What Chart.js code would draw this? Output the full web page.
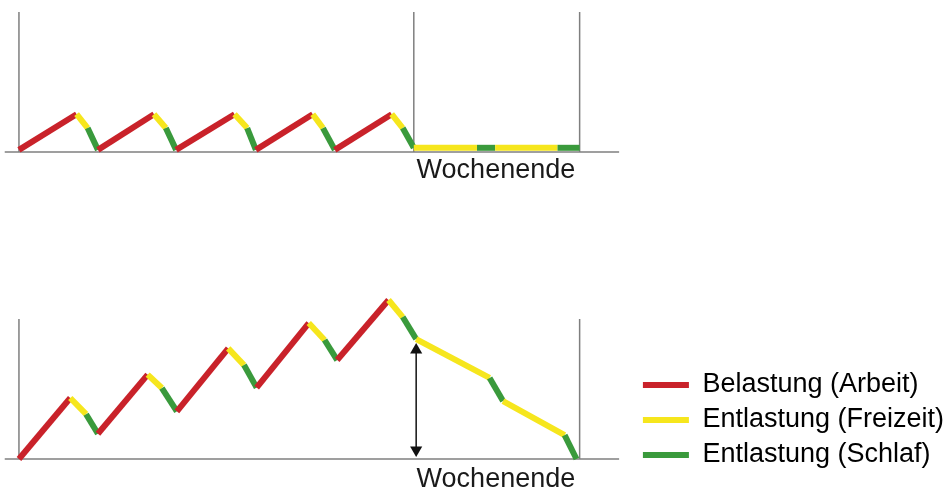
<!DOCTYPE html>
<html>
<head>
<meta charset="utf-8">
<script src="https://cdn.jsdelivr.net/npm/chart.js@4"></script>
<style>
  body { margin: 0; background: #fff; }
  canvas { position: absolute; left: 0; }
  #top { top: 0; }
  #bottom { top: 280px; }
</style>
</head>
<body>
<canvas id="top" width="950" height="190"></canvas>
<canvas id="bottom" width="950" height="211"></canvas>
<script>
// x = days from Monday, y = accumulated load
const kindNames = ['Belastung (Arbeit)', 'Entlastung (Freizeit)', 'Entlastung (Schlaf)'];
const kindColors = ['#c9222a', '#f6e61d', '#3a9a3c'];

// top: the load of each day is worked off again
const topX = [0, 0.73, 0.87, 1.0, 1.71, 1.86, 1.99, 2.73, 2.89, 3.0, 3.72, 3.85, 4.0, 4.72, 4.86, 5.0, 5.8, 6.03, 6.82, 7.1];
const topY = [0.15, 2.7, 1.71, 0.15, 2.7, 1.71, 0.15, 2.7, 1.71, 0.15, 2.7, 1.71, 0.15, 2.7, 1.71, 0.3, 0.3, 0.3, 0.3, 0.3];
const topKinds = [0, 1, 2, 0, 1, 2, 0, 1, 2, 0, 1, 2, 0, 1, 2, 1, 2, 1, 2];
const topGuides = [0, 5, 7.1];

// bottom: the load piles up over the week
const bottomX = [0, 0.65, 0.85, 1.0, 1.63, 1.81, 2.0, 2.65, 2.85, 3.01, 3.67, 3.87, 4.03, 4.68, 4.86, 5.03, 5.96, 6.13, 6.91, 7.06];
const bottomY = [0, 4.36, 3.2, 1.8, 6.03, 5.07, 3.4, 7.9, 6.71, 5.1, 9.71, 8.5, 7.07, 11.36, 10.14, 8.57, 5.79, 4.14, 1.71, 0];
const bottomKinds = [0, 1, 2, 0, 1, 2, 0, 1, 2, 0, 1, 2, 0, 1, 2, 1, 2, 1, 2];
const bottomGuides = [0, 7.1];
const arrowX = [5.03, 5.03];
const arrowY = [7.79, 0.64];

const guideTop = 10;
const baseFrom = -0.18, baseTo = 7.6;
const labelText = 'Wochenende';
const labelX = 6.04;

const gray = '#7f7f7f';
const font = '"Liberation Sans", Arial, sans-serif';
const xMin = -0.24, xMax = 7.8;

const pts = (xs, ys) => xs.map((x, i) => ({ x, y: ys[i] }));

function curve(xs, ys, kinds) {
  return {
    data: pts(xs, ys),
    borderWidth: 6,
    pointRadius: 0,
    borderColor: kindColors[0],
    segment: { borderColor: c => kindColors[kinds[c.p0DataIndex]] }
  };
}

function guide(x0, y0, x1, y1) {
  return {
    data: [{ x: x0, y: y0 }, { x: x1, y: y1 }],
    borderColor: gray,
    borderWidth: 1.5,
    pointRadius: 0
  };
}

const weekendLabel = {
  id: 'weekendLabel',
  afterDraw(chart, args, opts) {
    const { ctx, scales: { x, y } } = chart;
    ctx.save();
    ctx.font = '27px ' + font;
    ctx.fillStyle = '#1a1a1a';
    ctx.textAlign = 'center';
    ctx.textBaseline = 'alphabetic';
    ctx.fillText(labelText, x.getPixelForValue(labelX), y.getPixelForValue(0) + opts.offset);
    ctx.restore();
  }
};

function scales(yMin, yMax) {
  return {
    x: { type: 'linear', min: xMin, max: xMax, display: false },
    y: { type: 'linear', min: yMin, max: yMax, display: false }
  };
}

const bottomChart = new Chart(document.getElementById('bottom'), {
  type: 'line',
  data: {
    datasets: [
      curve(bottomX, bottomY, bottomKinds),
      {
        data: pts(arrowX, arrowY),
        borderColor: '#111',
        borderWidth: 1.5,
        pointStyle: 'triangle',
        pointRadius: 7,
        pointRotation: [0, 180],
        pointBackgroundColor: '#111',
        pointBorderColor: '#111',
        pointBorderWidth: 0
      },
      guide(baseFrom, 0, baseTo, 0),
      ...bottomGuides.map(g => guide(g, 0, g, guideTop))
    ]
  },
  options: {
    responsive: false,
    animation: false,
    events: [],
    layout: { autoPadding: false, padding: { top: 5, bottom: 14.5, left: 0, right: -4 } },
    scales: scales(-1.25, 12.43),
    plugins: {
      tooltip: { enabled: false },
      weekendLabel: { offset: 28 },
      legend: {
        position: 'right',
        align: 'end',
        labels: {
          boxWidth: 46,
          boxHeight: 6,
          padding: 8,
          color: '#1a1a1a',
          font: { size: 27, family: font },
          generateLabels: () => kindNames.map((t, i) => ({
            text: t,
            fillStyle: kindColors[i],
            strokeStyle: kindColors[i],
            lineWidth: 0,
            hidden: false,
            datasetIndex: 0
          }))
        }
      }
    }
  },
  plugins: [weekendLabel]
});

const rightPad = 950 - bottomChart.chartArea.right;

new Chart(document.getElementById('top'), {
  type: 'line',
  data: {
    datasets: [
      curve(topX, topY, topKinds),
      guide(baseFrom, 0, baseTo, 0),
      ...topGuides.map(g => guide(g, 0, g, guideTop))
    ]
  },
  options: {
    responsive: false,
    animation: false,
    events: [],
    layout: { autoPadding: false, padding: { top: 5, bottom: 31, left: 0, right: rightPad } },
    scales: scales(-0.5, 10.5),
    plugins: {
      tooltip: { enabled: false },
      legend: { display: false },
      weekendLabel: { offset: 26 }
    }
  },
  plugins: [weekendLabel]
});
</script>
</body>
</html>
